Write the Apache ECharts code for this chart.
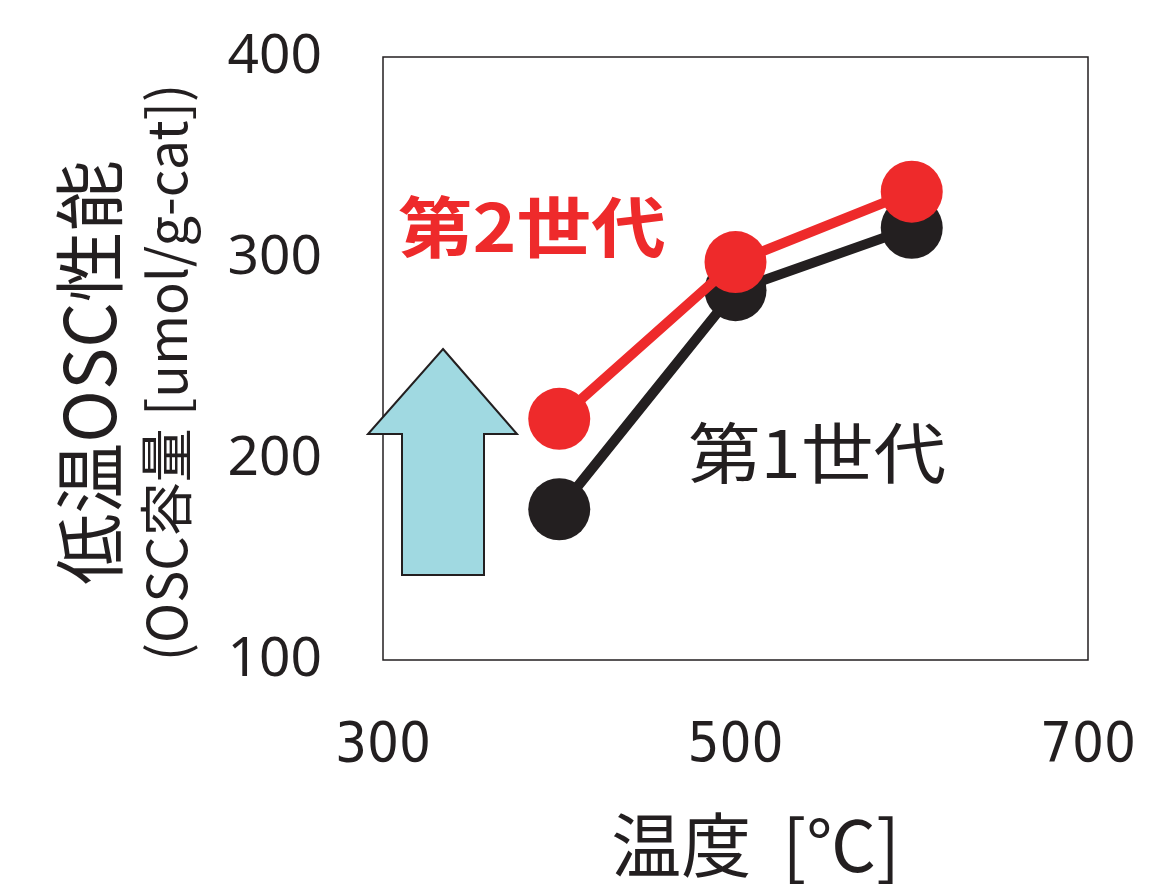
<!DOCTYPE html>
<html>
<head>
<meta charset="utf-8">
<script src="https://cdn.jsdelivr.net/npm/echarts@6/dist/echarts.min.js"></script>
<style>html,body{margin:0;padding:0;background:#fff}#c{width:1176px;height:892px}</style>
</head>
<body>
<div id="c"></div>
<script>
const temps = [400, 500, 600];
const gen1 = [175, 284, 315];
const gen2 = [220, 298, 333];
const xTicks = [300, 500, 700];
const yTicks = [100, 200, 300, 400];
const seriesNames = ['第1世代', '第2世代'];
const xName = '温度  [℃]';
const yName1 = '低温OSC性能';
const yName2 = '(OSC容量 [umol/g-cat])';

const ink = '#231f20';
const red = '#ee2a2b';
const cjk = '"Noto Sans CJK JP","Noto Sans",sans-serif';

const chart = echarts.init(document.getElementById('c'), null, {renderer: 'canvas'});
const option = {
  animation: false,
  backgroundColor: '#fff',
  grid: {left: 383, right: 88, top: 57, bottom: 232, show: true, borderColor: ink, borderWidth: 1.5, backgroundColor: 'transparent'},
  xAxis: {
    type: 'value', min: xTicks[0], max: xTicks[xTicks.length - 1], interval: 200,
    axisLine: {show: false}, axisTick: {show: false}, splitLine: {show: false},
    axisLabel: {margin: 58, fontSize: 56, color: ink, fontFamily: '"Liberation Sans Narrow","DejaVu Sans Condensed",sans-serif'},
    name: xName, nameLocation: 'middle', nameGap: 150,
    nameTextStyle: {fontSize: 70, color: ink, fontFamily: cjk, padding: [0, 0, 0, 40]}
  },
  yAxis: {
    type: 'value', min: yTicks[0], max: yTicks[yTicks.length - 1], interval: 100,
    axisLine: {show: false}, axisTick: {show: false}, splitLine: {show: false},
    axisLabel: {margin: 61, fontSize: 55, color: ink, fontFamily: '"Noto Sans",sans-serif'},
    name: '{a|' + yName1 + '}\n{b|' + yName2 + '}', nameLocation: 'middle', nameGap: 186, nameRotate: 90,
    nameTextStyle: {
      color: ink, fontFamily: cjk, padding: [0, 28, 0, 0],
      rich: {
        a: {fontSize: 71, lineHeight: 92, color: ink, fontFamily: cjk},
        b: {fontSize: 54, lineHeight: 62, color: ink, fontFamily: cjk}
      }
    }
  },
  graphic: [
    {
      type: 'polygon', z: 1,
      shape: {points: [[443, 349], [517, 434], [484, 434], [484, 575], [402, 575], [402, 434], [368, 434]]},
      style: {fill: '#a0d9e1', stroke: ink, lineWidth: 2}
    },
    {
      type: 'text', x: 398, y: 194, scaleX: 1.13, z: 10,
      style: {text: seriesNames[1], fill: red, font: 'bold 66px "Noto Sans CJK JP"', align: 'left', verticalAlign: 'top'}
    },
    {
      type: 'text', x: 688, y: 420, scaleX: 1.1, z: 10,
      style: {text: seriesNames[0], fill: ink, font: '66px "Noto Sans CJK JP"', align: 'left', verticalAlign: 'top'}
    }
  ],
  series: [
    {
      name: seriesNames[0], type: 'line', data: temps.map((t, i) => [t, gen1[i]]),
      symbol: 'circle', symbolSize: 62, lineStyle: {color: ink, width: 10}, itemStyle: {color: ink}, z: 3
    },
    {
      name: seriesNames[1], type: 'line', data: temps.map((t, i) => [t, gen2[i]]),
      symbol: 'circle', symbolSize: 62, lineStyle: {color: red, width: 10}, itemStyle: {color: red}, z: 4
    }
  ]
};
chart.setOption(option);
</script>
</body>
</html>
